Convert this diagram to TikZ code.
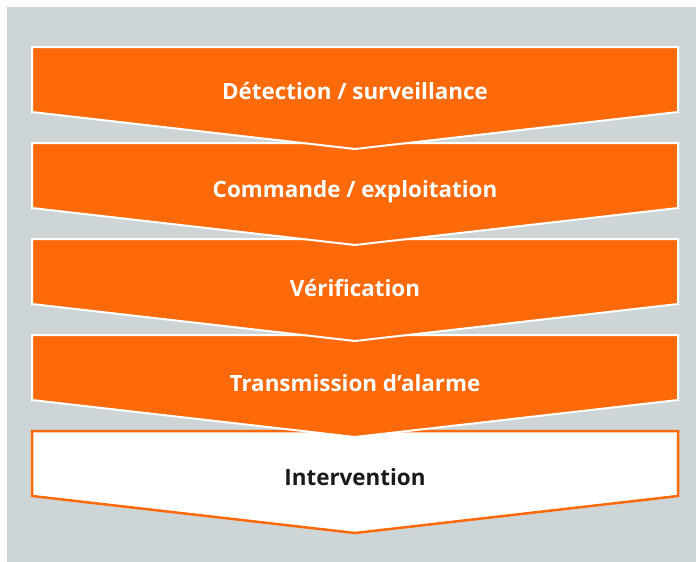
\documentclass[tikz,border=0pt]{standalone}
\usepackage{fontspec}
\setmainfont{Open Sans}
\usepackage{tikz}
\definecolor{bggray}{RGB}{206,213,214}
\definecolor{steporange}{RGB}{254,105,10}
\definecolor{steptext}{RGB}{26,26,26}
\tikzset{
  stepshape/.style={draw=white, line width=2pt, fill=steporange, line join=miter},
  laststep/.style={draw=steporange, line width=2.5pt, fill=white, line join=miter},
  steplabel/.style={font=\bfseries\fontsize{22.4}{26}\selectfont, text=white, inner sep=0pt, anchor=base},
}
\begin{document}
\begin{tikzpicture}[x=1pt, y=1pt]
    \useasboundingbox (0,0) rectangle (696,-562);
    \fill[bggray] (7,-7) rectangle (696,-562);
    % chevrons, drawn from the bottom up so each tip lies over the next one
    \draw[laststep] (32,-431) -- (678,-431) -- (678,-496) -- (355,-533) -- (32,-496) -- cycle;
    \foreach \top in {335,239,143,47} {
      \draw[stepshape] (32,-\top) -- (678,-\top) -- (678,-\top-65) -- (355,-\top-102) -- (32,-\top-65) -- cycle;
    }
    \node[steplabel] (detection)    at (355, -99) {Détection / surveillance};
    \node[steplabel] (commande)     at (355,-197) {Commande / exploitation};
    \node[steplabel] (verification) at (355,-296) {Vérification};
    \node[steplabel] (transmission) at (355,-391) {Transmission d’alarme};
    \node[steplabel, text=steptext] (intervention) at (355,-485) {Intervention};
\end{tikzpicture}
\end{document}
